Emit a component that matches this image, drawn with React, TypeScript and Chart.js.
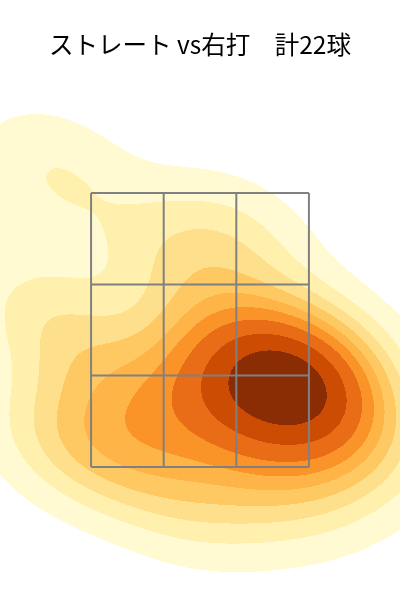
import React, { useEffect, useRef } from 'react';
import { Chart, registerables } from 'chart.js';

Chart.register(...registerables);

const TITLE = 'ストレート vs右打　計22球';

// Pitch locations (ft, catcher's view): horizontal / height
const pitchX = [0.585, 0.81, 0.62, 0.455, 0.845, 0.585, 0.195, 0.0, 0.29, 0.1, -0.325, -0.585, -0.91, -1.04, -0.65, -0.16, 0.23, -0.94, 0.42, -0.1, 0.78, 1.01];
const pitchZ = [2.35, 2.1, 1.95, 2.17, 2.32, 2.135, 2.135, 1.95, 1.81, 2.39, 1.84, 1.59, 1.7, 2.65, 2.21, 3.0, 3.16, 3.63, 1.33, 1.27, 1.51, 1.77];

// Strike zone grid (3x3)
const zoneX = [-0.708, -0.236, 0.236, 0.708];
const zoneZ = [1.5, 2.167, 2.833, 3.5];

// Density iso-proportion levels (share of mass below each contour)
const levelQuantiles = [0.05, 0.1556, 0.2611, 0.3667, 0.4722, 0.5778, 0.6833, 0.7889, 0.8944, 1.0];
const bandColors = ['#fffad2', '#fff0ae', '#fee08c', '#fec962', '#feb446', '#fa9428', '#e86d16', '#cd4c03', '#8a2d04'];

const xRange = [-1.3, 1.3];
const zRange = [0.529, 4.325];

function hexToRgb(h: string) {
  const v = parseInt(h.slice(1), 16);
  return [(v >> 16) & 255, (v >> 8) & 255, v & 255];
}

function buildKde(xs: number[], zs: number[]) {
  const n = xs.length;
  const mx = xs.reduce((a, b) => a + b, 0) / n;
  const mz = zs.reduce((a, b) => a + b, 0) / n;
  let sxx = 0, szz = 0, sxz = 0;
  for (let i = 0; i < n; i++) {
    const dx = xs[i] - mx, dz = zs[i] - mz;
    sxx += dx * dx; szz += dz * dz; sxz += dx * dz;
  }
  sxx /= n - 1; szz /= n - 1; sxz /= n - 1;
  const f2 = Math.pow(n, -1 / 3);
  const a = sxx * f2, b = sxz * f2, d = szz * f2;
  const det = a * d - b * b;
  const ia = d / det, ib = -b / det, id = a / det;
  const density = (x: number, z: number) => {
    let s = 0;
    for (let i = 0; i < n; i++) {
      const dx = x - xs[i], dz = z - zs[i];
      s += Math.exp(-0.5 * (ia * dx * dx + 2 * ib * dx * dz + id * dz * dz));
    }
    return s;
  };
  const bwx = Math.sqrt(a), bwz = Math.sqrt(d);
  const x0 = Math.min(...xs) - 3 * bwx, x1 = Math.max(...xs) + 3 * bwx;
  const z0 = Math.min(...zs) - 3 * bwz, z1 = Math.max(...zs) + 3 * bwz;
  const G = 200;
  const vals: number[] = [];
  for (let j = 0; j < G; j++) {
    const z = z0 + ((z1 - z0) * j) / (G - 1);
    for (let i = 0; i < G; i++) {
      const x = x0 + ((x1 - x0) * i) / (G - 1);
      vals.push(density(x, z));
    }
  }
  const total = vals.reduce((p, c) => p + c, 0);
  const sorted = vals.slice().sort((p, q) => q - p);
  const cum: number[] = [];
  let acc = 0;
  for (const v of sorted) { acc += v; cum.push(acc / total); }
  const levels = levelQuantiles.map((q) => {
    const target = 1 - q;
    let lo = 0, hi = cum.length;
    while (lo < hi) { const m = (lo + hi) >> 1; if (cum[m] < target) lo = m + 1; else hi = m; }
    const idx = Math.min(lo, sorted.length - 1);
    return sorted[idx];
  });
  return { density, levels };
}

const kdePlugin = {
  id: 'kdeFill',
  beforeDatasetsDraw(chart: any) {
    const { ctx, chartArea, scales } = chart;
    const { density, levels } = buildKde(pitchX, pitchZ);
    const rgb = bandColors.map(hexToRgb);
    const left = Math.round(chartArea.left), top = Math.round(chartArea.top);
    const w = Math.round(chartArea.right) - left, h = Math.round(chartArea.bottom) - top;
    const off = document.createElement('canvas');
    off.width = w; off.height = h;
    const octx = off.getContext('2d')!;
    const img = octx.createImageData(w, h);
    for (let py = 0; py < h; py++) {
      const z = scales.y.getValueForPixel(top + py + 0.5);
      for (let px = 0; px < w; px++) {
        const x = scales.x.getValueForPixel(left + px + 0.5);
        const v = density(x, z);
        if (v < levels[0]) continue;
        let k = 0;
        while (k < bandColors.length - 1 && v >= levels[k + 1]) k++;
        const o = (py * w + px) * 4;
        img.data[o] = rgb[k][0]; img.data[o + 1] = rgb[k][1]; img.data[o + 2] = rgb[k][2]; img.data[o + 3] = 255;
      }
    }
    octx.putImageData(img, 0, 0);
    ctx.save();
    ctx.drawImage(off, left, top);
    ctx.restore();
  },
};

export default function App() {
  const ref = useRef<HTMLCanvasElement>(null);
  useEffect(() => {
    document.body.style.margin = '0';
    const lineStyle = { showLine: true, borderColor: '#808080', borderWidth: 2, pointRadius: 0, fill: false };
    const datasets: any[] = [];
    zoneX.forEach((x) => datasets.push({ ...lineStyle, data: [{ x, y: zoneZ[0] }, { x, y: zoneZ[zoneZ.length - 1] }] }));
    zoneZ.forEach((z) => datasets.push({ ...lineStyle, data: [{ x: zoneX[0], y: z }, { x: zoneX[zoneX.length - 1], y: z }] }));
    const chart = new Chart(ref.current!, {
      type: 'scatter',
      data: { datasets },
      options: {
        animation: false,
        responsive: false,
        devicePixelRatio: 1,
        layout: { padding: 0 },
        scales: {
          x: { type: 'linear', min: xRange[0], max: xRange[1], display: false },
          y: { type: 'linear', min: zRange[0], max: zRange[1], display: false },
        },
        plugins: {
          legend: { display: false },
          tooltip: { enabled: false },
          title: {
            display: true,
            text: TITLE,
            color: '#000',
            font: { family: "'Noto Sans CJK JP', sans-serif", size: 24.5, weight: 'normal' },
            padding: { top: 30, bottom: 20.6 },
          },
        },
      },
      plugins: [kdePlugin],
    });
    return () => chart.destroy();
  }, []);
  return (
    <div style={{ width: 400, height: 600 }}>
      <canvas ref={ref} width={400} height={600} />
    </div>
  );
}
